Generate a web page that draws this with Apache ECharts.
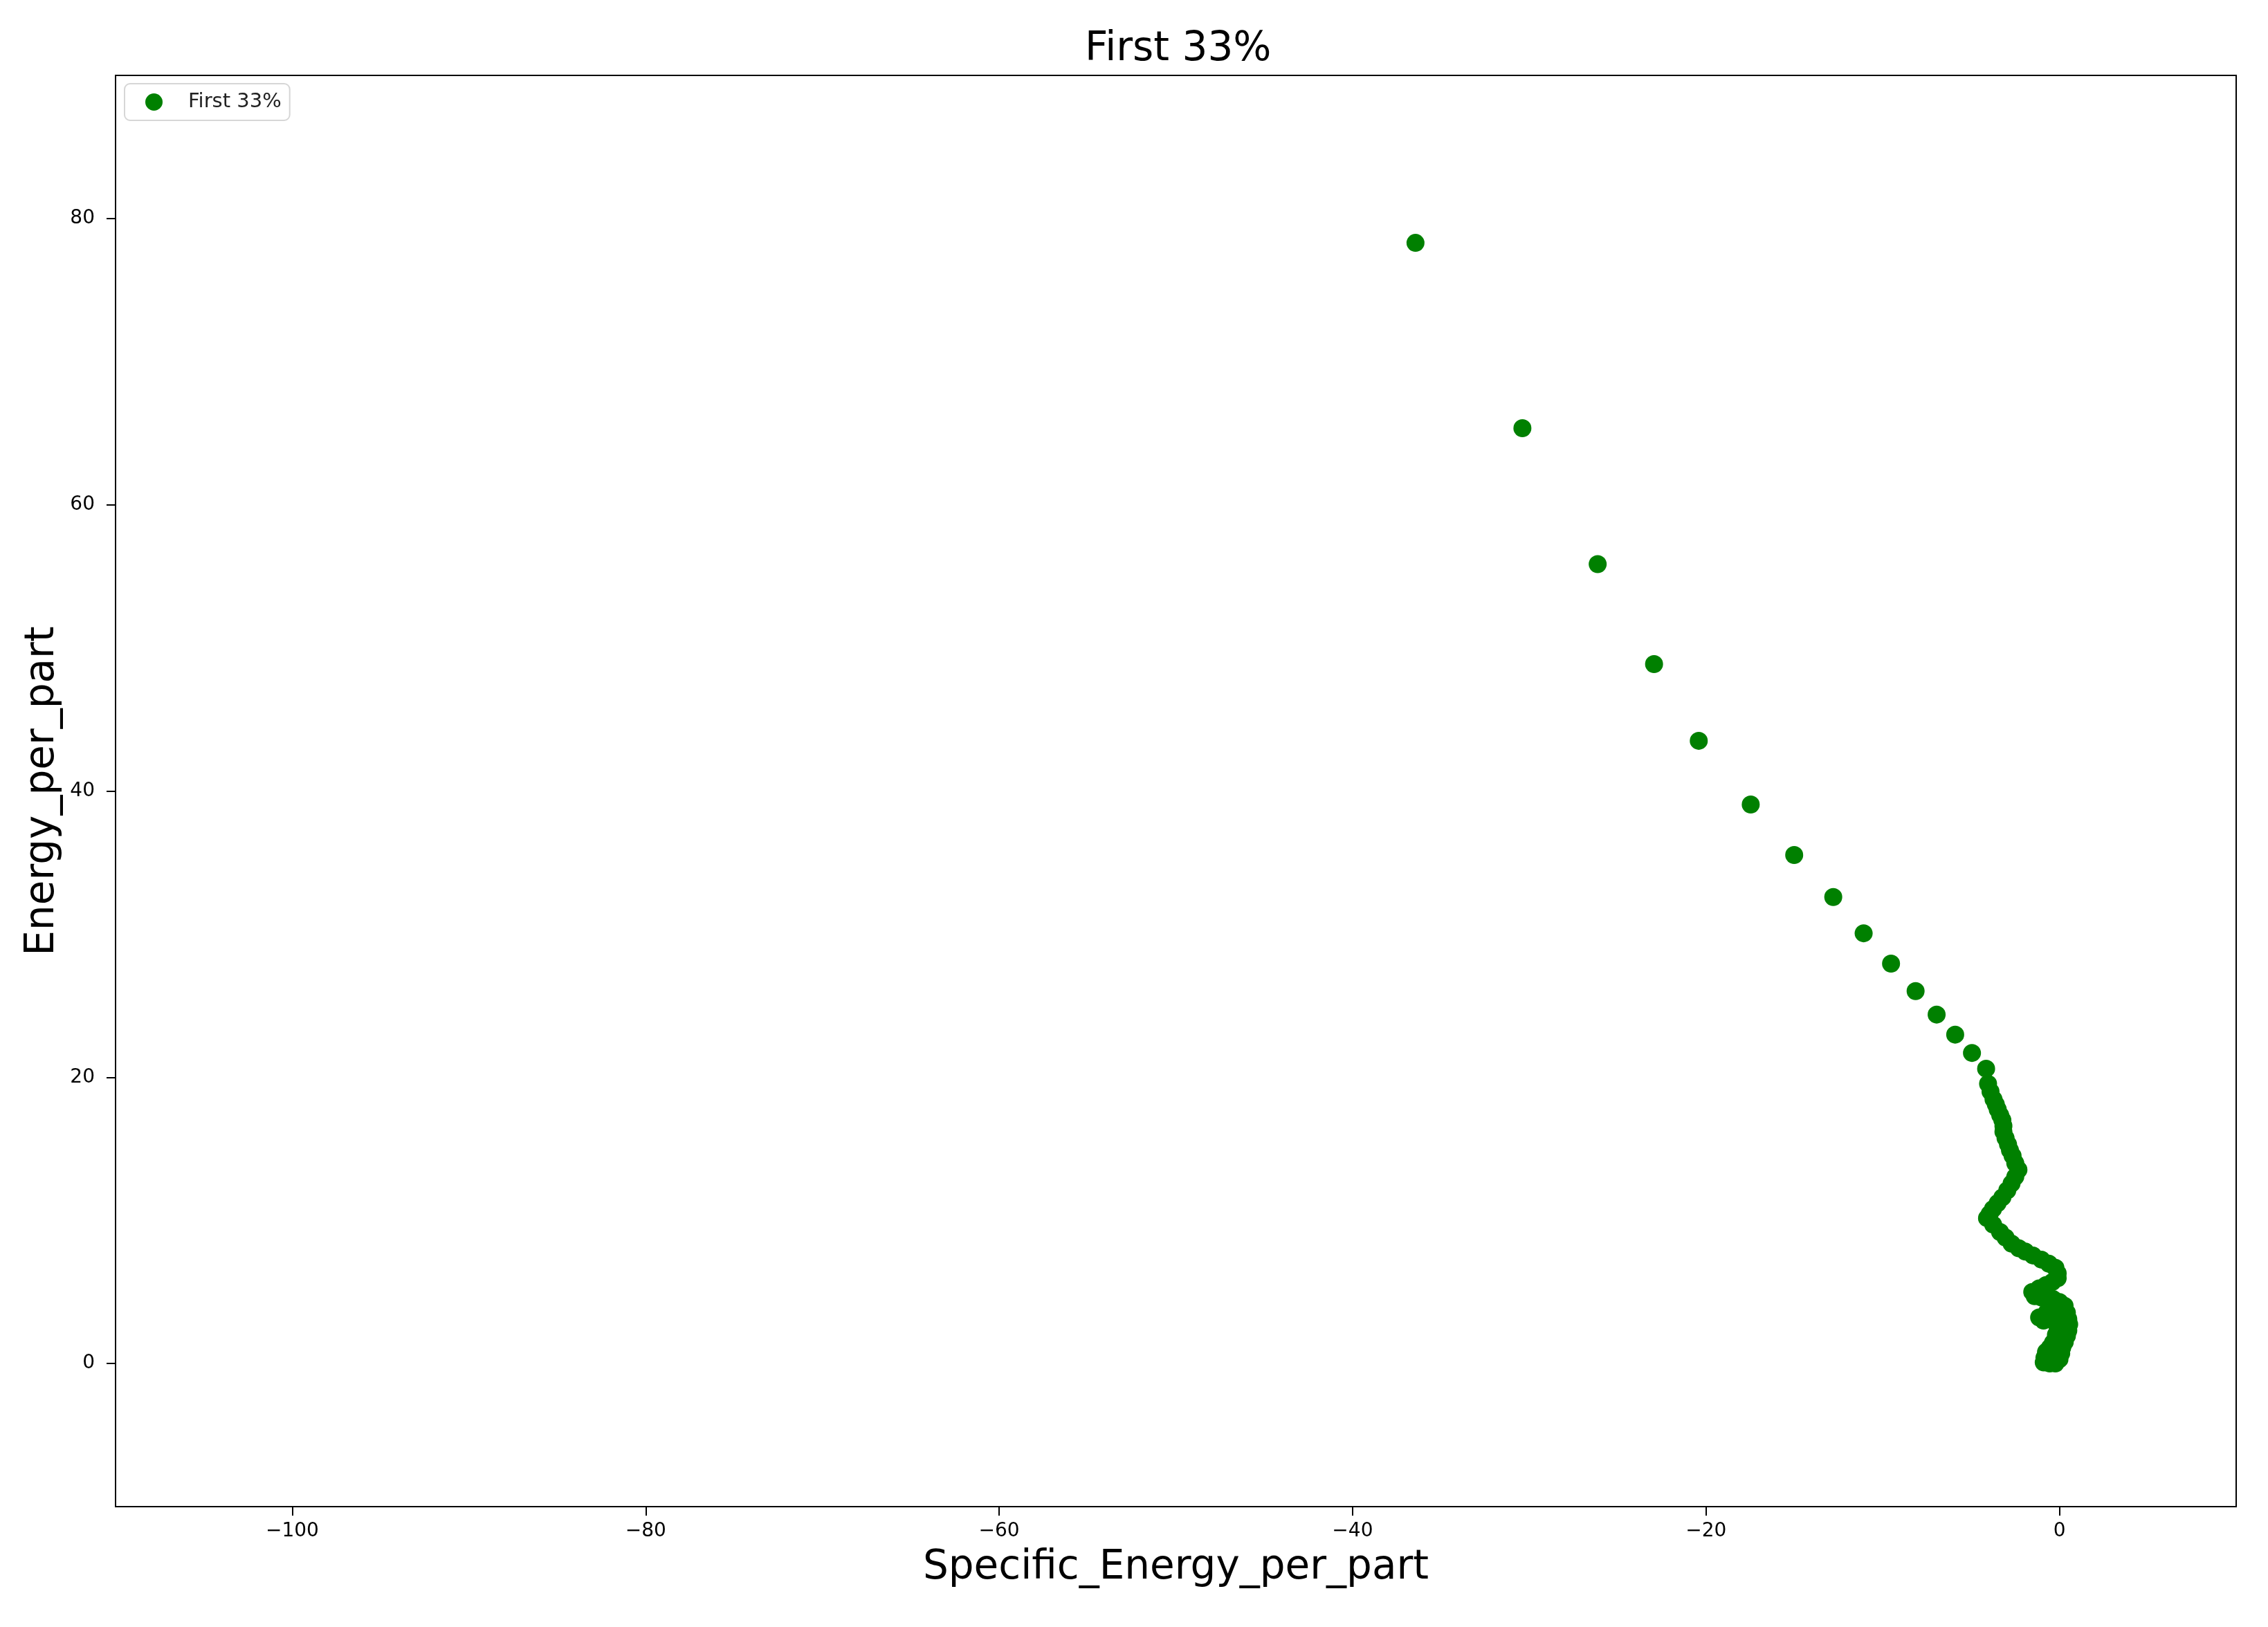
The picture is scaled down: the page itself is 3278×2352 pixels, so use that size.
<!DOCTYPE html>
<html>
<head>
<meta charset="utf-8">
<script src="https://cdn.jsdelivr.net/npm/echarts@6/dist/echarts.min.js"></script>
<style>
html,body{margin:0;padding:0;background:#fff;}
#chart{width:3278px;height:2352px;}
</style>
</head>
<body>
<div id="chart"></div>
<script>
const titleText = 'First 33%';
const seriesName = 'First 33%';
const xAxisName = 'Specific_Energy_per_part';
const yAxisName = 'Energy_per_part';
const xTicks = [-100, -80, -60, -40, -20, 0];
const yTicks = [0, 20, 40, 60, 80];

const xValues = [
  -36.44,-30.39,-26.13,-22.94,-20.41,-17.47,-15.01,-12.80,-11.08,-9.53,-8.14,-6.95,-5.90,-4.95,-4.15,
  -4.04,-3.90,-3.73,-3.60,-3.49,-3.35,-3.23,-3.17,-3.17,-3.05,-2.91,-2.80,-2.65,-2.50,-2.32,
  -2.50,-2.71,-2.95,-3.23,-3.50,-3.76,-3.95,-4.10,
  -3.75,-3.36,-3.05,-2.71,-2.30,-1.93,-1.50,-1.02,-0.60,-0.23,
  -0.10,-0.10,-0.40,-0.76,-1.15,-1.54,-1.40,-1.00,-0.37,0.00,0.29,
  -0.20,-0.70,-1.15,-0.90,-0.40,0.10,0.42,0.50,0.55,0.50,0.42,0.30,0.16,-0.10,-0.37,-0.20,-0.10,0.00,0.20,0.00,
  -0.55,-0.76,-0.85,-0.89,-0.55,-0.23,0.00,0.10
];
const yValues = [
  78.30,65.35,55.85,48.87,43.51,39.06,35.53,32.59,30.06,27.94,26.02,24.38,22.98,21.70,20.60,
  19.54,19.00,18.46,18.10,17.74,17.35,17.01,16.60,16.20,15.75,15.32,14.90,14.51,14.00,13.54,
  13.05,12.58,12.10,11.61,11.20,10.80,10.45,10.16,
  9.70,9.19,8.80,8.38,8.05,7.82,7.55,7.26,6.98,6.69,
  6.30,5.96,5.70,5.48,5.25,5.00,4.70,4.60,4.51,4.30,4.03,
  3.90,3.60,3.22,3.00,3.30,3.50,3.55,3.10,2.74,2.30,1.93,1.50,1.13,1.30,1.45,2.00,2.50,3.00,2.40,2.00,
  1.10,0.81,0.40,0.08,0.00,0.00,0.30,0.70
];

const points = xValues.map((x, i) => [x, yValues[i]]);
const fmt = v => String(v).replace('-', '\u2212');
const FONT = 'DejaVu Sans';

const chart = echarts.init(document.getElementById('chart'), null, {renderer: 'canvas'});
chart.setOption({
  animation: false,
  backgroundColor: '#ffffff',
  textStyle: {fontFamily: FONT},
  title: {
    text: titleText,
    left: 1563,
    top: 38,
    textStyle: {fontFamily: FONT, fontSize: 58, fontWeight: 'normal', color: '#000'}
  },
  legend: {
    data: [seriesName],
    left: 180,
    top: 121,
    orient: 'vertical',
    padding: [12, 12, 12, 30],
    itemWidth: 25,
    itemHeight: 25,
    borderColor: '#d6d6d6',
    borderWidth: 2,
    borderRadius: 8,
    backgroundColor: '#fff',
    textStyle: {fontFamily: FONT, fontSize: 29, color: '#222', padding: [0, 0, 0, 32]}
  },
  grid: {
    left: 167, right: 46, top: 109, bottom: 174,
    show: true, borderColor: '#000', borderWidth: 2, backgroundColor: 'transparent'
  },
  xAxis: {
    type: 'value',
    min: -110, max: 10,
    name: xAxisName,
    nameLocation: 'middle',
    nameGap: 60,
    nameTextStyle: {fontFamily: FONT, fontSize: 58, color: '#000'},
    axisLine: {show: true, onZero: false, lineStyle: {color: '#000', width: 2}},
    axisTick: {show: true, length: 13, customValues: xTicks, lineStyle: {color: '#000', width: 2}},
    axisLabel: {customValues: xTicks, margin: 22, fontSize: 28, color: '#000', fontFamily: FONT, formatter: fmt},
    splitLine: {show: false}
  },
  yAxis: {
    type: 'value',
    min: -10, max: 90,
    name: yAxisName,
    nameLocation: 'middle',
    nameGap: 76,
    nameTextStyle: {fontFamily: FONT, fontSize: 58, color: '#000'},
    axisLine: {show: true, onZero: false, lineStyle: {color: '#000', width: 2}},
    axisTick: {show: true, length: 13, customValues: yTicks, lineStyle: {color: '#000', width: 2}},
    axisLabel: {customValues: yTicks, margin: 30, fontSize: 28, color: '#000', fontFamily: FONT, formatter: fmt},
    splitLine: {show: false}
  },
  series: [{
    name: seriesName,
    type: 'scatter',
    symbol: 'circle',
    symbolSize: 26,
    itemStyle: {color: '#008000', opacity: 1},
    data: points
  }]
});
</script>
</body>
</html>
